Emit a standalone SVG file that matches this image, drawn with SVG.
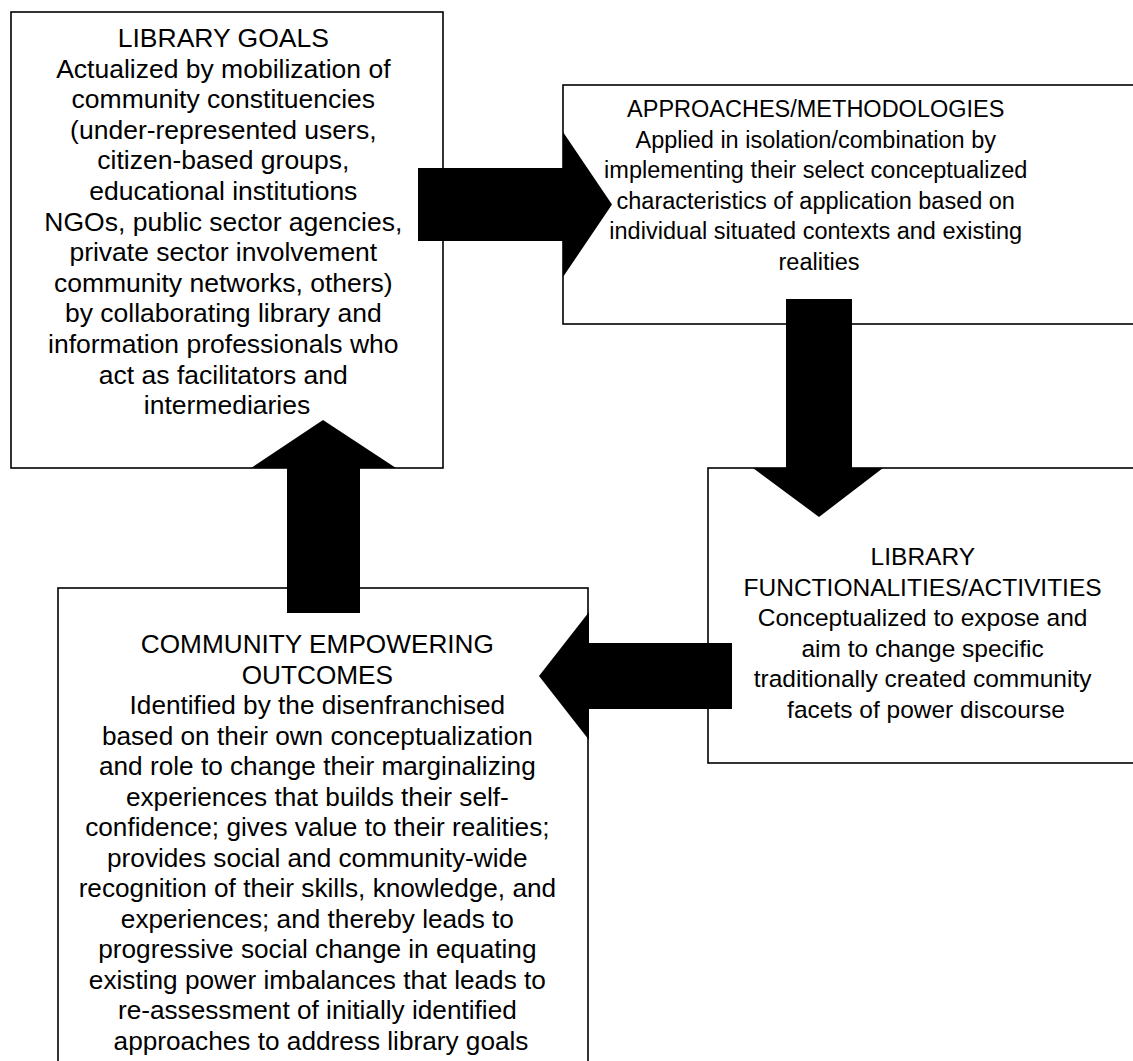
<svg xmlns="http://www.w3.org/2000/svg" width="1133" height="1061" viewBox="0 0 1133 1061">
<style>
.box{fill:#fff;stroke:#000;stroke-width:1.6}
.t{font-family:"Liberation Sans",Arial,sans-serif;fill:#000;text-anchor:middle}
.arrow{fill:#000;stroke:none}
</style>
<rect x="0" y="0" width="1133" height="1061" fill="#fff"/>
<g id="node-library-goals">
<rect class="box" x="11" y="12" width="432" height="456"/>
<text class="t" font-size="26.5">
<tspan x="227" y="47">LIBRARY GOALS</tspan>
<tspan x="227" y="77.6">Actualized by mobilization of</tspan>
<tspan x="227" y="108.2">community constituencies</tspan>
<tspan x="227" y="138.8">(under-represented users,</tspan>
<tspan x="227" y="169.4">citizen-based groups,</tspan>
<tspan x="227" y="200">educational institutions</tspan>
<tspan x="227" y="230.6">NGOs, public sector agencies,</tspan>
<tspan x="227" y="261.2">private sector involvement</tspan>
<tspan x="227" y="291.8">community networks, others)</tspan>
<tspan x="227" y="322.4">by collaborating library and</tspan>
<tspan x="227" y="353">information professionals who</tspan>
<tspan x="227" y="383.6">act as facilitators and</tspan>
<tspan x="227" y="414.2">intermediaries</tspan>
</text>
</g>
<g id="node-approaches">
<rect class="box" x="563" y="85" width="600" height="239"/>
<text class="t" font-size="23.5">
<tspan x="819" y="117">APPROACHES/METHODOLOGIES</tspan>
<tspan x="819" y="147.6">Applied in isolation/combination by</tspan>
<tspan x="819" y="178.2">implementing their select conceptualized</tspan>
<tspan x="819" y="208.8">characteristics of application based on</tspan>
<tspan x="819" y="239.4">individual situated contexts and existing</tspan>
<tspan x="819" y="270">realities</tspan>
</text>
</g>
<g id="node-functionalities">
<rect class="box" x="708" y="468" width="450" height="295"/>
<text class="t" font-size="24.5">
<tspan x="926" y="565">LIBRARY</tspan>
<tspan x="926" y="595.6">FUNCTIONALITIES/ACTIVITIES</tspan>
<tspan x="926" y="626.2">Conceptualized to expose and</tspan>
<tspan x="926" y="656.8">aim to change specific</tspan>
<tspan x="926" y="687.4">traditionally created community</tspan>
<tspan x="926" y="718">facets of power discourse</tspan>
</text>
</g>
<g id="node-outcomes">
<rect class="box" x="58" y="588" width="530" height="500"/>
<text class="t" font-size="26.2">
<tspan x="321" y="653">COMMUNITY EMPOWERING</tspan>
<tspan x="321" y="683.5">OUTCOMES</tspan>
<tspan x="321" y="714">Identified by the disenfranchised</tspan>
<tspan x="321" y="744.5">based on their own conceptualization</tspan>
<tspan x="321" y="775">and role to change their marginalizing</tspan>
<tspan x="321" y="805.5">experiences that builds their self-</tspan>
<tspan x="321" y="836">confidence; gives value to their realities;</tspan>
<tspan x="321" y="866.5">provides social and community-wide</tspan>
<tspan x="321" y="897">recognition of their skills, knowledge, and</tspan>
<tspan x="321" y="927.5">experiences; and thereby leads to</tspan>
<tspan x="321" y="958">progressive social change in equating</tspan>
<tspan x="321" y="988.5">existing power imbalances that leads to</tspan>
<tspan x="321" y="1019">re-assessment of initially identified</tspan>
<tspan x="321" y="1049.5">approaches to address library goals</tspan>
</text>
</g>
<g id="connectors">
<polygon class="arrow" points="418,168 563,168 563,132 612,204.5 563,277 563,241 418,241"/>
<polygon class="arrow" points="786,299 852,299 852,468 883,468 819,517 753,468 786,468"/>
<polygon class="arrow" points="732,643 732,709 589,709 589,740 539,676 589,612 589,643"/>
<polygon class="arrow" points="287,613 287,468 251,468 323,420 396,468 360,468 360,613"/>
</g>
</svg>
